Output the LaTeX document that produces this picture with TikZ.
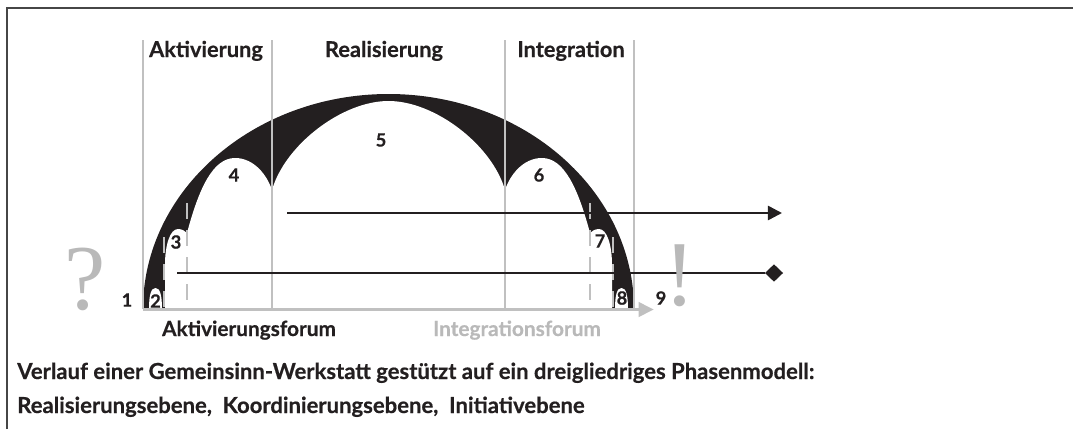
\documentclass[tikz,border=0pt]{standalone}
\usepackage{fontspec}
\setsansfont{Lato}[BoldFeatures={FakeBold=0.5}]
\newfontfamily\signfont{Liberation Serif}
\usetikzlibrary{arrows.meta,shapes.geometric}

\definecolor{inkblack}{RGB}{35,31,32}
\definecolor{rulegray}{RGB}{192,192,192}
\definecolor{signgray}{RGB}{185,185,185}
\definecolor{framegray}{RGB}{70,70,70}

\begin{document}
\begin{tikzpicture}[x=0.025cm,y=-0.025cm]
\tikzset{
  phaselabel/.style={font=\sffamily\bfseries\fontsize{15.5}{17}\selectfont,inner sep=0pt,anchor=base},
  forumlabel/.style={font=\sffamily\bfseries\fontsize{14.8}{16}\selectfont,inner sep=0pt,anchor=base},
  numlabel/.style={font=\sffamily\bfseries\fontsize{13}{15}\selectfont,inner sep=0pt,text=inkblack},
  captionline/.style={font=\sffamily\bfseries\fontsize{15.7}{18}\selectfont,inner sep=0pt,anchor=base west,text=inkblack},
  bigsign/.style={font=\signfont\fontsize{66}{70}\selectfont,inner sep=0pt,text=signgray},
  phaseline/.style={rulegray,line width=1.4pt},
  forumdash/.style={rulegray,line width=1.8pt,dash pattern=on 11.4pt off 7.8pt},
  axisarrow/.style={rulegray,line width=2.8pt,-{Triangle[length=11pt,width=10pt]}},
  levelarrow/.style={inkblack,line width=1.8pt,-{Triangle[length=10pt,width=10pt]}},
  levelline/.style={inkblack,line width=1.2pt},
  diamondtip/.style={diamond,fill=inkblack,minimum width=13pt,minimum height=12.5pt,inner sep=0pt}
}
\useasboundingbox (0,0) rectangle (1073,429);

% frame
\draw[framegray,line width=1.4pt] (7,429) -- (7,8) -- (1073,8);

% dome
\fill[inkblack] (143,309) .. controls (143,191) and (253,94) .. (388.5,94)
  .. controls (524,94) and (634,191) .. (634,309) -- cycle;
\fill[white] (165,309) -- (165,265) .. controls (165,245) and (170,229) .. (178,229)
  .. controls (182,229) and (185,231) .. (187,233)
  .. controls (199,188) and (213,158) .. (235,158)
  .. controls (254,158) and (267,175) .. (272,190)
  .. controls (285,145) and (342,101) .. (388.5,101)
  .. controls (435,101) and (492,145) .. (505,190)
  .. controls (510,175) and (523,158) .. (542,158)
  .. controls (564,158) and (578,188) .. (590,233)
  .. controls (592,231) and (595,229) .. (599,229)
  .. controls (607,229) and (612,245) .. (612,265) -- (612,309) -- cycle;
\fill[white] (149,309) .. controls (149,295) and (151,288) .. (155.5,288)
  .. controls (160,288) and (162,295) .. (162,309) -- cycle;
\fill[white] (628,309) .. controls (628,295) and (626,288) .. (621.5,288)
  .. controls (617,288) and (615,295) .. (615,309) -- cycle;

% phase borders
\draw[phaseline] (143,40) -- (143,309);
\draw[phaseline] (272,40) -- (272,309);
\draw[phaseline] (505,40) -- (505,309);
\draw[phaseline] (634,40) -- (634,309);
\draw[forumdash] (164,237) -- (164,309);
\draw[forumdash] (187,203) -- (187,309);
\draw[forumdash] (590,203) -- (590,309);
\draw[forumdash] (613,237) -- (613,309);

% phase names
\node[phaselabel,text=inkblack] (p_akt) at (206,57) {Aktivierung};
\node[phaselabel,text=inkblack] (p_real) at (384,57) {Realisierung};
\node[phaselabel,text=inkblack] (p_int) at (571,57) {Integration};

% levels
\coordinate (lv_a) at (287,213);
\coordinate (lv_b) at (782,213);
\draw[levelarrow] (lv_a) -- (lv_b);
\coordinate (lv_c) at (177,273);
\node[diamondtip] (lv_d) at (774,273) {};
\draw[levelline] (lv_c) -- (lv_d);
\coordinate (ax_a) at (143,309.5);
\coordinate (ax_b) at (654,309.5);
\draw[axisarrow] (ax_a) -- (ax_b);

% steps
\node[numlabel] (s1) at (127,300) {1};
\node[numlabel] (s2) at (155.5,301) {2};
\node[numlabel] (s3) at (176,242) {3};
\node[numlabel] (s4) at (234,175) {4};
\node[numlabel] (s5) at (381,140) {5};
\node[numlabel] (s6) at (539,175) {6};
\node[numlabel] (s7) at (600,241) {7};
\node[numlabel] (s8) at (622,298) {8};
\node[numlabel] (s9) at (661,298) {9};
\node[bigsign] (q) at (85,279) {?};
\node[bigsign] (ex) at (680,276) {!};

% forums
\node[forumlabel,text=inkblack] (f_akt) at (249,336) {Aktivierungsforum};
\node[forumlabel,text=signgray] (f_int) at (517,336) {Integrationsforum};

% caption
\node[captionline] (c1) at (17,379) {Verlauf einer Gemeinsinn-Werkstatt gestützt auf ein dreigliedriges Phasenmodell:};
\node[captionline] (c2) at (17,413) {Realisierungsebene,\ \ Koordinierungsebene,\ \ Initiativebene};
\end{tikzpicture}
\end{document}
